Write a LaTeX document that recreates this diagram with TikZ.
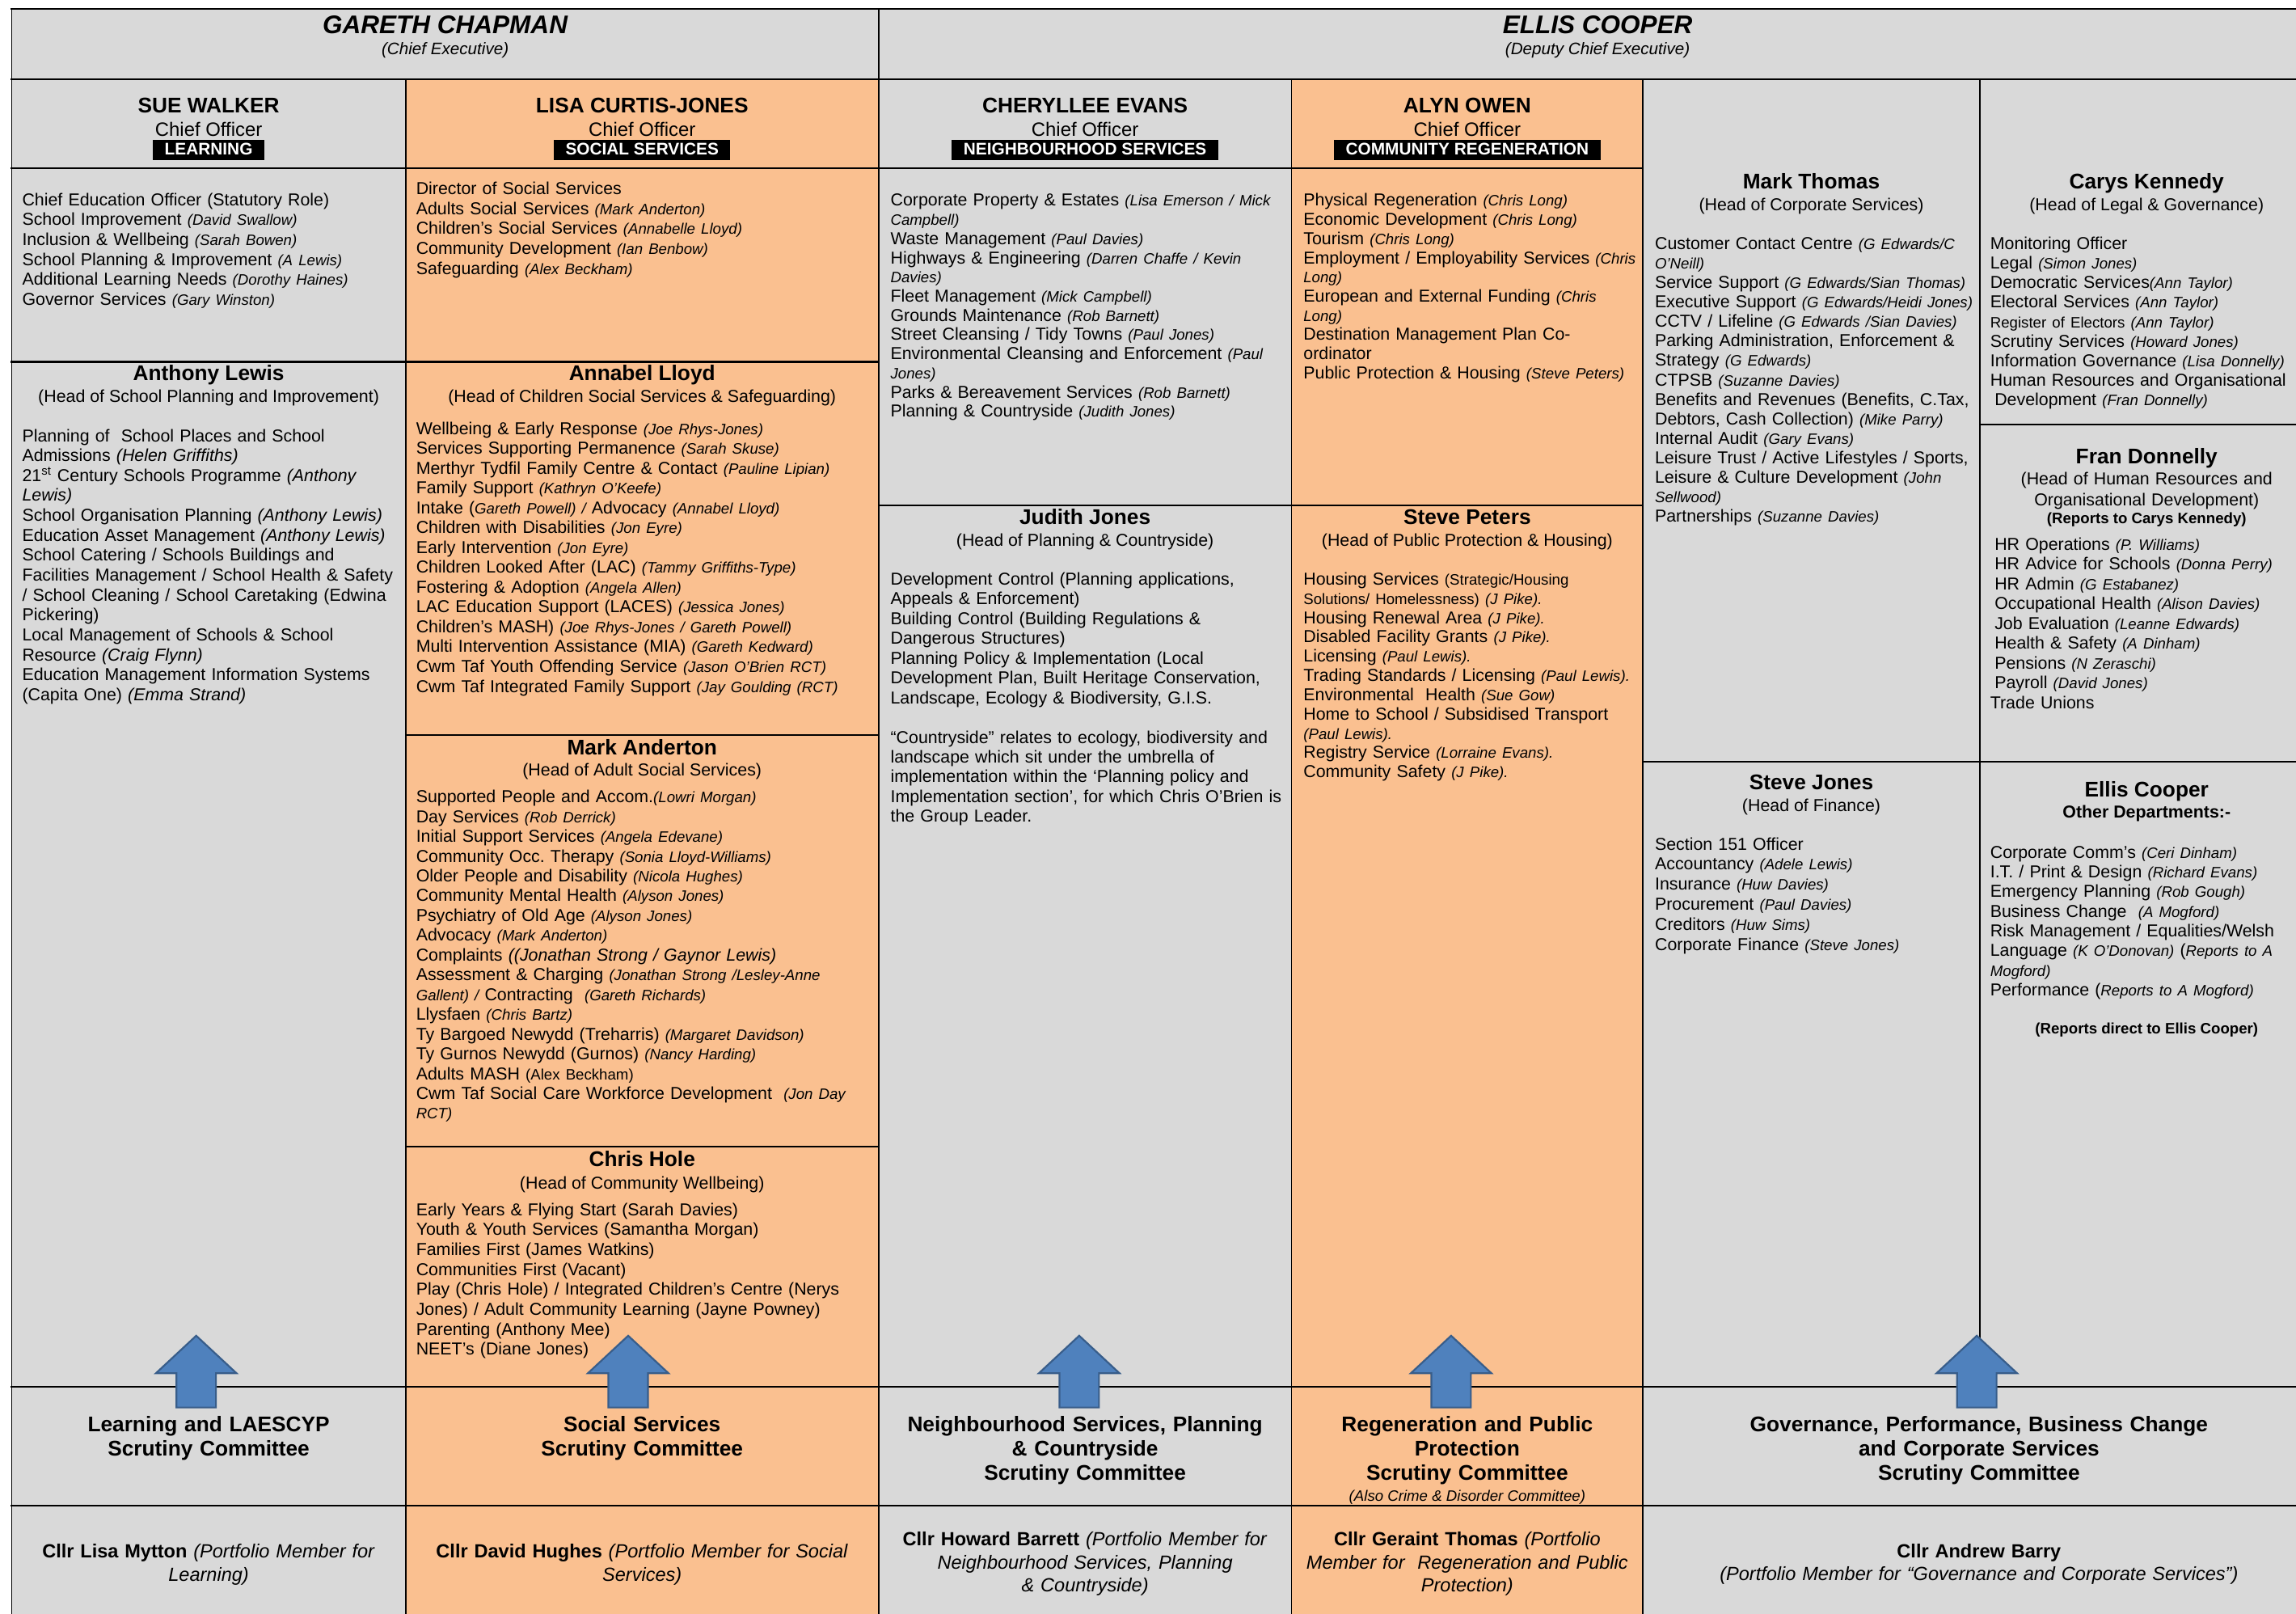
\documentclass[tikz,border=0pt]{standalone}
\usepackage{fontspec}
\setmainfont{Liberation Sans}
\frenchspacing
\definecolor{boxgrey}{HTML}{D9D9D9}
\definecolor{boxorange}{HTML}{FAC090}
\definecolor{arrowblue}{HTML}{4F81BD}
\definecolor{arrowedge}{HTML}{385D8A}
\newcommand\nm[1]{{\fontsize{10.3}{12}\selectfont\itshape #1}}
\newcommand\sm[1]{{\fontsize{10.3}{12}\selectfont #1}}
\tikzset{
  every node/.style={inner sep=0pt},
  hline/.style={line width=1.3pt,line cap=rect},
  vline/.style={line width=0.9pt},
  toptitle/.style={anchor=base,font=\fontsize{17.4}{20}\selectfont\bfseries\itshape},
  topsub/.style={anchor=base,font=\fontsize{11.4}{13}\selectfont\itshape},
  hd/.style={anchor=base,font=\fontsize{14.5}{16}\selectfont\bfseries},
  subhd/.style={anchor=base,font=\fontsize{11.8}{13.6}\selectfont},
  chief/.style={anchor=base,font=\fontsize{13.2}{15}\selectfont},
  dept/.style={fill=black,text=white,inner xsep=8pt,inner ysep=1pt,text height=9pt,text depth=2.5pt,font=\fontsize{11.5}{13}\selectfont\bfseries},
  lst/.style={anchor=base west,align=left,text width=330pt,font=\fontsize{11.8}{#1}\selectfont},
  lst/.default=13.6,
  note/.style={anchor=base,font=\fontsize{10.3}{12}\selectfont\bfseries},
  scrut/.style={anchor=base,align=center,text width=#1,font=\fontsize{14.5}{16.4}\selectfont\bfseries},
  portf/.style={anchor=base,align=center,text width=#1,font=\fontsize{13}{15.6}\selectfont},
  blockup/.style={fill=arrowblue,draw=arrowedge,line width=1.2pt,line join=miter}
}
\begin{document}
\begin{tikzpicture}[x=1pt,y=-1pt]
  \useasboundingbox (0,0) rectangle (1568,1102);
  \clip (0,0) rectangle (1568,1102);
  % Flaechen
  \fill[boxgrey] (8,6) rectangle (1581,1110);
  \fill[boxorange] (277,54) rectangle (600,1110);
  \fill[boxorange] (882,54) rectangle (1122,1110);
  % Horizontale Linien
  \foreach \y/\xa/\xb in {6/8/1581,54/8/1581,115/8/1122,247/8/600,345/600/1122,
      502/277/600,783/277/600,290/1352/1581,520/1122/1581,947/8/1581,1028/8/1581}
    \draw[hline] (\xa,\y) -- (\xb,\y);
  % Vertikale Linien
  \foreach \x/\ya/\yb in {8/6/1110,277/54/1110,600/6/1110,882/54/1110,1122/54/1110,1352/54/947}
    \draw[vline] (\x,\ya) -- (\x,\yb);

  % Oberste Zeile
  \node[toptitle] (gareth) at (304,23) {GARETH CHAPMAN};
  \node[topsub] (gareth-role) at (304,37) {(Chief Executive)};
  \node[toptitle] (ellis) at (1091,23) {ELLIS COOPER};
  \node[topsub] (ellis-role) at (1091,37) {(Deputy Chief Executive)};

  % Chief Officers
  \foreach \x/\n/\who/\dep in {142.5/sue/SUE WALKER/LEARNING,
      438.5/lisa/LISA CURTIS-JONES/SOCIAL SERVICES,
      741/cheryllee/CHERYLLEE EVANS/NEIGHBOURHOOD SERVICES,
      1002/alyn/ALYN OWEN/COMMUNITY REGENERATION}{
    \node[hd] (\n) at (\x,77) {\who};
    \node[chief] (\n-co) at (\x,93) {Chief Officer};
    \node[dept] (\n-dept) at (\x,102.5) {\dep};
  }

  % Spalte 1
  \node[lst] (sue-list) at (15,140.3) {Chief Education Officer (Statutory Role)\\
    School Improvement \nm{(David Swallow)}\\
    Inclusion \& Wellbeing \nm{(Sarah Bowen)}\\
    School Planning \& Improvement \nm{(A Lewis)}\\
    Additional Learning Needs \nm{(Dorothy Haines)}\\
    Governor Services \nm{(Gary Winston)}};
  \node[hd] (anthony) at (142.5,260) {Anthony Lewis};
  \node[subhd] (anthony-role) at (142.5,274.6) {(Head of School Planning and Improvement)};
  \node[lst] (anthony-list) at (15,301.5) {Planning of\ \ School Places and School\\
    Admissions \textit{(Helen Griffiths)}\\
    21\textsuperscript{st} Century Schools Programme \textit{(Anthony}\\
    \textit{Lewis)}\\
    School Organisation Planning \textit{(Anthony Lewis)}\\
    Education Asset Management \textit{(Anthony Lewis)}\\
    School Catering / Schools Buildings and\\
    Facilities Management / School Health \& Safety\\
    / School Cleaning / School Caretaking (Edwina\\
    Pickering)\\
    Local Management of Schools \& School\\
    Resource \textit{(Craig Flynn)}\\
    Education Management Information Systems\\
    (Capita One) \textit{(Emma Strand)}};

  % Spalte 2
  \node[lst] (lisa-list) at (284,132.9) {Director of Social Services\\
    Adults Social Services \nm{(Mark Anderton)}\\
    Children’s Social Services \nm{(Annabelle Lloyd)}\\
    Community Development \nm{(Ian Benbow)}\\
    Safeguarding \nm{(Alex Beckham)}};
  \node[hd] (annabel) at (438.5,260) {Annabel Lloyd};
  \node[subhd] (annabel-role) at (438.5,274.6) {(Head of Children Social Services \& Safeguarding)};
  \node[lst=13.55] (annabel-list) at (284,296.5) {Wellbeing \& Early Response \nm{(Joe Rhys-Jones)}\\
    Services Supporting Permanence \nm{(Sarah Skuse)}\\
    Merthyr Tydfil Family Centre \& Contact \nm{(Pauline Lipian)}\\
    Family Support \nm{(Kathryn O’Keefe)}\\
    Intake (\nm{Gareth Powell) / }Advocacy \nm{(Annabel Lloyd)}\\
    Children with Disabilities \nm{(Jon Eyre)}\\
    Early Intervention \nm{(Jon Eyre)}\\
    Children Looked After (LAC) \nm{(Tammy Griffiths-Type)}\\
    Fostering \& Adoption \nm{(Angela Allen)}\\
    LAC Education Support (LACES) \nm{(Jessica Jones)}\\
    Children’s MASH) \nm{(Joe Rhys-Jones / Gareth Powell)}\\
    Multi Intervention Assistance (MIA) \nm{(Gareth Kedward)}\\
    Cwm Taf Youth Offending Service \nm{(Jason O’Brien RCT)}\\
    Cwm Taf Integrated Family Support \nm{(Jay Goulding (RCT)}};
  \node[hd] (mark-a) at (438.5,515.3) {Mark Anderton};
  \node[subhd] (mark-a-role) at (438.5,529.7) {(Head of Adult Social Services)};
  \node[lst=13.5] (mark-a-list) at (284,548.1) {Supported People and Accom.\nm{(Lowri Morgan)}\\
    Day Services \nm{(Rob Derrick)}\\
    Initial Support Services \nm{(Angela Edevane)}\\
    Community Occ. Therapy \nm{(Sonia Lloyd-Williams)}\\
    Older People and Disability \nm{(Nicola Hughes)}\\
    Community Mental Health \nm{(Alyson Jones)}\\
    Psychiatry of Old Age \nm{(Alyson Jones)}\\
    Advocacy \nm{(Mark Anderton)}\\
    Complaints \textit{((Jonathan Strong / Gaynor Lewis)}\\
    Assessment \& Charging \nm{(Jonathan Strong /Lesley-Anne}\\
    \nm{Gallent) / }Contracting\ \ \nm{(Gareth Richards)}\\
    Llysfaen \nm{(Chris Bartz)}\\
    Ty Bargoed Newydd (Treharris) \nm{(Margaret Davidson)}\\
    Ty Gurnos Newydd (Gurnos) \nm{(Nancy Harding)}\\
    Adults MASH \sm{(Alex Beckham)}\\
    Cwm Taf Social Care Workforce Development\ \ \nm{(Jon Day}\\
    \nm{RCT)}};
  \node[hd] (chris) at (438.5,796.6) {Chris Hole};
  \node[subhd] (chris-role) at (438.5,811.7) {(Head of Community Wellbeing)};
  \node[lst] (chris-list) at (284,830) {Early Years \& Flying Start (Sarah Davies)\\
    Youth \& Youth Services (Samantha Morgan)\\
    Families First (James Watkins)\\
    Communities First (Vacant)\\
    Play (Chris Hole) / Integrated Children’s Centre (Nerys\\
    Jones) / Adult Community Learning (Jayne Powney)\\
    Parenting (Anthony Mee)\\
    NEET’s (Diane Jones)};

  % Spalte 3
  \node[lst=13.1] (cheryllee-list) at (608,140.7) {Corporate Property \& Estates \nm{(Lisa Emerson / Mick}\\
    \nm{Campbell)}\\
    Waste Management \nm{(Paul Davies)}\\
    Highways \& Engineering \nm{(Darren Chaffe / Kevin}\\
    \nm{Davies)}\\
    Fleet Management \nm{(Mick Campbell)}\\
    Grounds Maintenance \nm{(Rob Barnett)}\\
    Street Cleansing / Tidy Towns \nm{(Paul Jones)}\\
    Environmental Cleansing and Enforcement \nm{(Paul}\\
    \nm{Jones)}\\
    Parks \& Bereavement Services \nm{(Rob Barnett)}\\
    Planning \& Countryside \nm{(Judith Jones)}};
  \node[hd] (judith) at (741,358) {Judith Jones};
  \node[subhd] (judith-role) at (741,372.7) {(Head of Planning \& Countryside)};
  \node[lst=13.5] (judith-list) at (608,399.4) {Development Control (Planning applications,\\
    Appeals \& Enforcement)\\
    Building Control (Building Regulations \&\\
    Dangerous Structures)\\
    Planning Policy \& Implementation (Local\\
    Development Plan, Built Heritage Conservation,\\
    Landscape, Ecology \& Biodiversity, G.I.S.\\[13.5pt]
    “Countryside” relates to ecology, biodiversity and\\
    landscape which sit under the umbrella of\\
    implementation within the ‘Planning policy and\\
    Implementation section’, for which Chris O’Brien is\\
    the Group Leader.};

  % Spalte 4
  \node[lst=13.1] (alyn-list) at (890,140.7) {Physical Regeneration \nm{(Chris Long)}\\
    Economic Development \nm{(Chris Long)}\\
    Tourism \nm{(Chris Long)}\\
    Employment / Employability Services \nm{(Chris}\\
    \nm{Long)}\\
    European and External Funding \nm{(Chris}\\
    \nm{Long)}\\
    Destination Management Plan Co-\\
    ordinator\\
    Public Protection \& Housing \nm{(Steve Peters)}};
  \node[hd] (steve-p) at (1002,358) {Steve Peters};
  \node[subhd] (steve-p-role) at (1002,372.7) {(Head of Public Protection \& Housing)};
  \node[lst=13.16] (steve-p-list) at (890,399.4) {Housing Services \sm{(Strategic/Housing}\\
    \sm{Solutions/ Homelessness)} \nm{(J Pike).}\\
    Housing Renewal Area \nm{(J Pike).}\\
    Disabled Facility Grants \nm{(J Pike).}\\
    Licensing \nm{(Paul Lewis).}\\
    Trading Standards / Licensing \nm{(Paul Lewis).}\\
    Environmental\ \ Health \nm{(Sue Gow)}\\
    Home to School / Subsidised Transport\\
    \nm{(Paul Lewis).}\\
    Registry Service \nm{(Lorraine Evans).}\\
    Community Safety \nm{(J Pike).}};

  % Spalte 5
  \node[hd] (mark-t) at (1237,128.8) {Mark Thomas};
  \node[subhd] (mark-t-role) at (1237,143.6) {(Head of Corporate Services)};
  \node[lst=13.3] (mark-t-list) at (1130,170.3) {Customer Contact Centre \nm{(G Edwards/C}\\
    \nm{O’Neill)}\\
    Service Support \nm{(G Edwards/Sian Thomas)}\\
    Executive Support \nm{(G Edwards/Heidi Jones)}\\
    CCTV / Lifeline \nm{(G Edwards /Sian Davies)}\\
    Parking Administration, Enforcement \&\\
    Strategy \nm{(G Edwards)}\\
    CTPSB \nm{(Suzanne Davies)}\\
    Benefits and Revenues (Benefits, C.Tax,\\
    Debtors, Cash Collection) \nm{(Mike Parry)}\\
    Internal Audit \nm{(Gary Evans)}\\
    Leisure Trust / Active Lifestyles / Sports,\\
    Leisure \& Culture Development \nm{(John}\\
    \nm{Sellwood)}\\
    Partnerships \nm{(Suzanne Davies)}};
  \node[hd] (steve-j) at (1237,539) {Steve Jones};
  \node[subhd] (steve-j-role) at (1237,553.9) {(Head of Finance)};
  \node[lst=13.7] (steve-j-list) at (1130,580.3) {Section 151 Officer\\
    Accountancy \nm{(Adele Lewis)}\\
    Insurance \nm{(Huw Davies)}\\
    Procurement \nm{(Paul Davies)}\\
    Creditors \nm{(Huw Sims)}\\
    Corporate Finance \nm{(Steve Jones)}};

  % Spalte 6
  \node[hd] (carys) at (1466,128.8) {Carys Kennedy};
  \node[subhd] (carys-role) at (1466,143.6) {(Head of Legal \& Governance)};
  \node[lst=13.35] (carys-list) at (1359,170.3) {Monitoring Officer\\
    Legal \nm{(Simon Jones)}\\
    Democratic Services\nm{(Ann Taylor)}\\
    Electoral Services \nm{(Ann Taylor)}\\
    \sm{Register of Electors \itshape(Ann Taylor)}\\
    Scrutiny Services \nm{(Howard Jones)}\\
    Information Governance \nm{(Lisa Donnelly)}\\
    Human Resources and Organisational\\
    \hspace*{3pt}Development \nm{(Fran Donnelly)}};
  \node[hd] (fran) at (1466,316.6) {Fran Donnelly};
  \node[subhd,align=center,text width=220pt,font=\fontsize{11.8}{14.2}\selectfont] (fran-role) at (1466,330.9) {(Head of Human Resources and\\Organisational Development)};
  \node[note] (fran-note) at (1466,357.5) {(Reports to Carys Kennedy)};
  \node[lst=13.55] (fran-list) at (1362,375.5) {HR Operations \nm{(P. Williams)}\\
    HR Advice for Schools \nm{(Donna Perry)}\\
    HR Admin \nm{(G Estabanez)}\\
    Occupational Health \nm{(Alison Davies)}\\
    Job Evaluation \nm{(Leanne Edwards)}\\
    Health \& Safety \nm{(A Dinham)}\\
    Pensions \nm{(N Zeraschi)}\\
    Payroll \nm{(David Jones)}\\
    \hspace*{-3pt}Trade Unions};
  \node[hd] (ellis-o) at (1466,544.2) {Ellis Cooper};
  \node[note,font=\fontsize{11.8}{13.6}\selectfont\bfseries] (ellis-o-role) at (1466,558.5) {Other Departments:-};
  \node[lst=13.4] (ellis-o-list) at (1359,586) {Corporate Comm’s \nm{(Ceri Dinham)}\\
    I.T.\ / Print \& Design \nm{(Richard Evans)}\\
    Emergency Planning \nm{(Rob Gough)}\\
    Business Change\ \ \nm{(A Mogford)}\\
    Risk Management / Equalities/Welsh\\
    Language \nm{(K O’Donovan)} (\nm{Reports to A}\\
    \nm{Mogford)}\\
    Performance (\nm{Reports to A Mogford)}};
  \node[note] (ellis-o-note) at (1466,705.7) {(Reports direct to Ellis Cooper)};

  % Pfeile
  \foreach \x in {134,429,737,991,1350}
    \draw[blockup] (\x,912) -- ++(27.5,25.6) -- ++(-14,0) -- ++(0,23.4)
      -- ++(-27,0) -- ++(0,-23.4) -- ++(-14,0) -- cycle;

  % Scrutiny Committees
  \node[scrut=262pt] (scr-learn) at (142.5,977.7) {Learning and LAESCYP\\Scrutiny Committee};
  \node[scrut=316pt] (scr-social) at (438.5,977.7) {Social Services\\Scrutiny Committee};
  \node[scrut=276pt] (scr-nbh) at (741,977.7) {Neighbourhood Services, Planning\\\& Countryside\\Scrutiny Committee};
  \node[scrut=234pt] (scr-regen) at (1002,977.7) {Regeneration and Public\\Protection\\Scrutiny Committee};
  \node[anchor=base,font=\fontsize{10.3}{12}\selectfont\itshape] (scr-regen-note) at (1002,1025) {(Also Crime \& Disorder Committee)};
  \node[scrut=450pt] (scr-gov) at (1351.5,977.7) {Governance, Performance, Business Change\\and Corporate Services\\Scrutiny Committee};

  % Portfolio Members
  \node[portf=262pt] (pm-learn) at (142.5,1063.8) {\textbf{Cllr Lisa Mytton} \textit{(Portfolio Member for}\\\textit{Learning)}};
  \node[portf=316pt] (pm-social) at (438.5,1063.8) {\textbf{Cllr David Hughes} \textit{(Portfolio Member for Social}\\\textit{Services)}};
  \node[portf=276pt] (pm-nbh) at (741,1055.5) {\textbf{Cllr Howard Barrett} \textit{(Portfolio Member for}\\\textit{Neighbourhood Services, Planning}\\\textit{\& Countryside)}};
  \node[portf=236pt] (pm-regen) at (1002,1055.5) {\textbf{Cllr Geraint Thomas} \textit{(Portfolio}\\\textit{Member for\ \ Regeneration and Public}\\\textit{Protection)}};
  \node[portf=450pt] (pm-gov) at (1351.5,1063.5) {\textbf{Cllr Andrew Barry}\\\textit{(Portfolio Member for “Governance and Corporate Services”)}};
\end{tikzpicture}
\end{document}
